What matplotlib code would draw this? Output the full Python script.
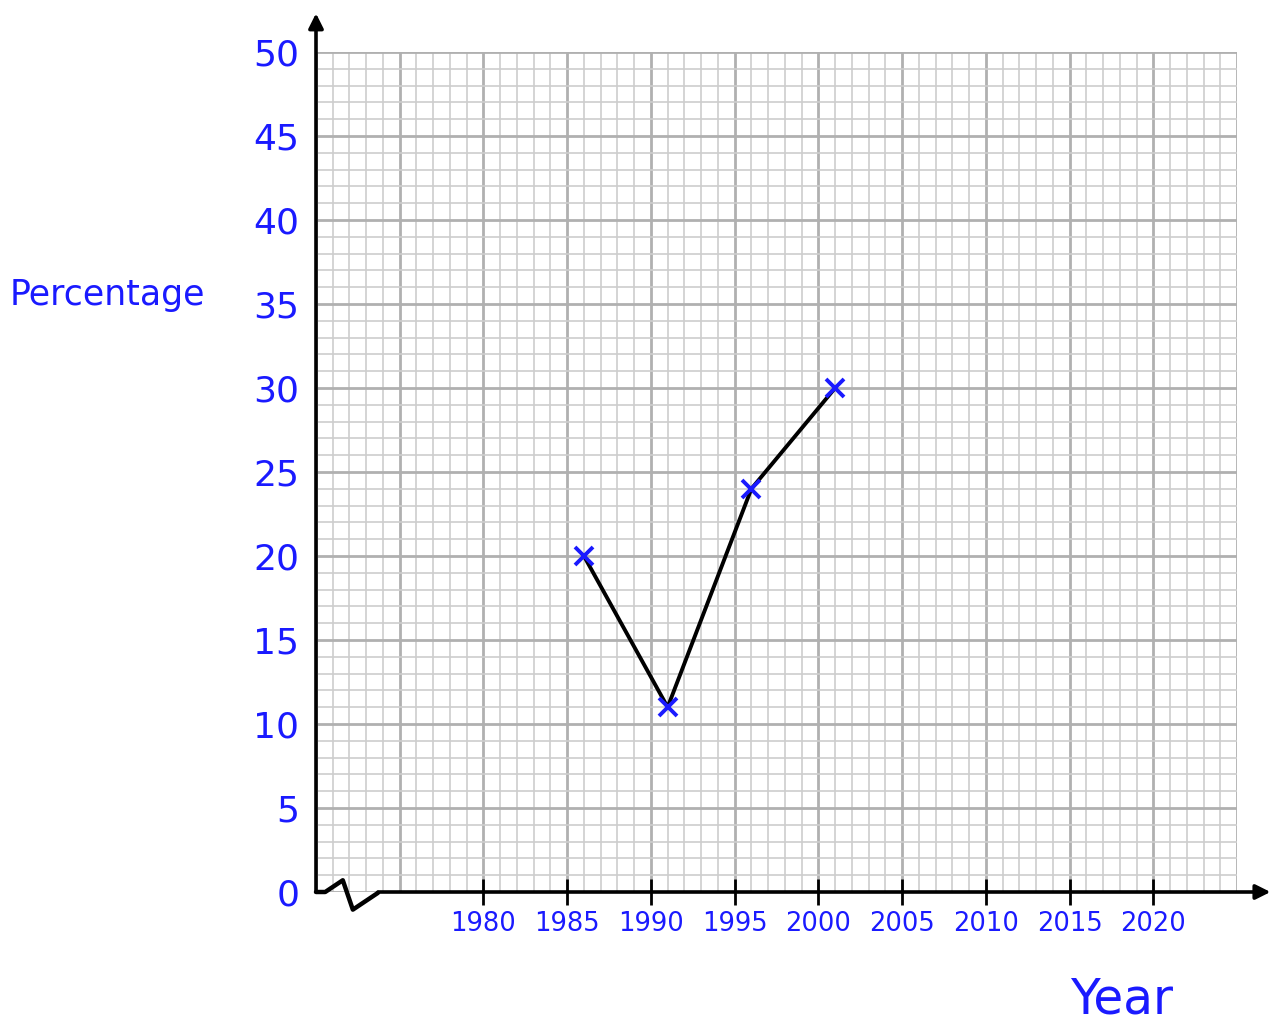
import matplotlib
matplotlib.use("Agg")
import matplotlib.pyplot as plt
from matplotlib.ticker import MultipleLocator, FixedLocator

years = [1986, 1991, 1996, 2001]
pct = [20, 11, 24, 30]
year_ticks = [1980, 1985, 1990, 1995, 2000, 2005, 2010, 2015, 2020]
pct_ticks = [0, 5, 10, 15, 20, 25, 30, 35, 40, 45, 50]

blue = "#1a1aff"
plt.rcParams['font.family'] = ['DejaVu Sans']

fig = plt.figure(figsize=(12.78, 10.23), dpi=100)
ax = fig.add_axes([316/1278, 1 - 892/1023, (1237-316)/1278, (892-52)/1023])
ax.set_xlim(1970, 2025)
ax.set_ylim(0, 50)

for s in ax.spines.values():
    s.set_visible(False)

# graph paper
ax.xaxis.set_minor_locator(MultipleLocator(1))
ax.yaxis.set_minor_locator(MultipleLocator(1))
ax.yaxis.set_major_locator(FixedLocator(pct_ticks))
ax.grid(which='minor', color='#cdcdcd', lw=1.2)
ax.grid(which='major', color='#b0b0b0', lw=2.0)
ax.set_axisbelow(True)

# ticks: only label 1980..2020
xt = list(range(1970, 2026, 5))
ax.set_xticks(xt)
ax.set_xticklabels([str(y) if y in year_ticks else '' for y in xt])
for t, loc in zip(ax.xaxis.get_major_ticks(), xt):
    if loc not in year_ticks:
        t.tick1line.set_visible(False)
ax.tick_params(axis='x', which='major', direction='inout', length=19, width=2.0,
               color='black', labelsize=18.5, labelcolor=blue, pad=4)
ax.tick_params(axis='y', which='major', length=0, labelsize=26, labelcolor=blue, pad=12)
ax.tick_params(which='minor', length=0)

# axes with arrows and the break
ax.plot([1970, 1970.55, 1971.6, 1972.2, 1973.7], [0, 0, 0.7, -1.05, -0.05],
        color='black', lw=3.2, clip_on=False, solid_joinstyle='round',
        solid_capstyle='round', zorder=5)
ax.annotate('', xy=(2027, 0), xytext=(1973.7, 0),
            arrowprops=dict(arrowstyle='-|>', lw=2.6, color='black', mutation_scale=22,
                            shrinkA=0, shrinkB=0), annotation_clip=False, zorder=5)
ax.annotate('', xy=(1970, 52.3), xytext=(1970, 0),
            arrowprops=dict(arrowstyle='-|>', lw=2.6, color='black', mutation_scale=22,
                            shrinkA=0, shrinkB=0), annotation_clip=False, zorder=5)

# data
ax.plot(years, pct, color='black', lw=2.8, zorder=6)
ax.plot(years, pct, linestyle='none', marker='x', color=blue, markersize=13,
        markeredgewidth=2.8, zorder=7)

fig.text(10/1278, 1 - 295/1023, 'Percentage', color=blue, fontsize=25,
         ha='left', va='center')
fig.text(1122/1278, 1 - 1000/1023, 'Year', color=blue, fontsize=35,
         ha='center', va='center')

fig.savefig('out.png', dpi=100, facecolor='white')
